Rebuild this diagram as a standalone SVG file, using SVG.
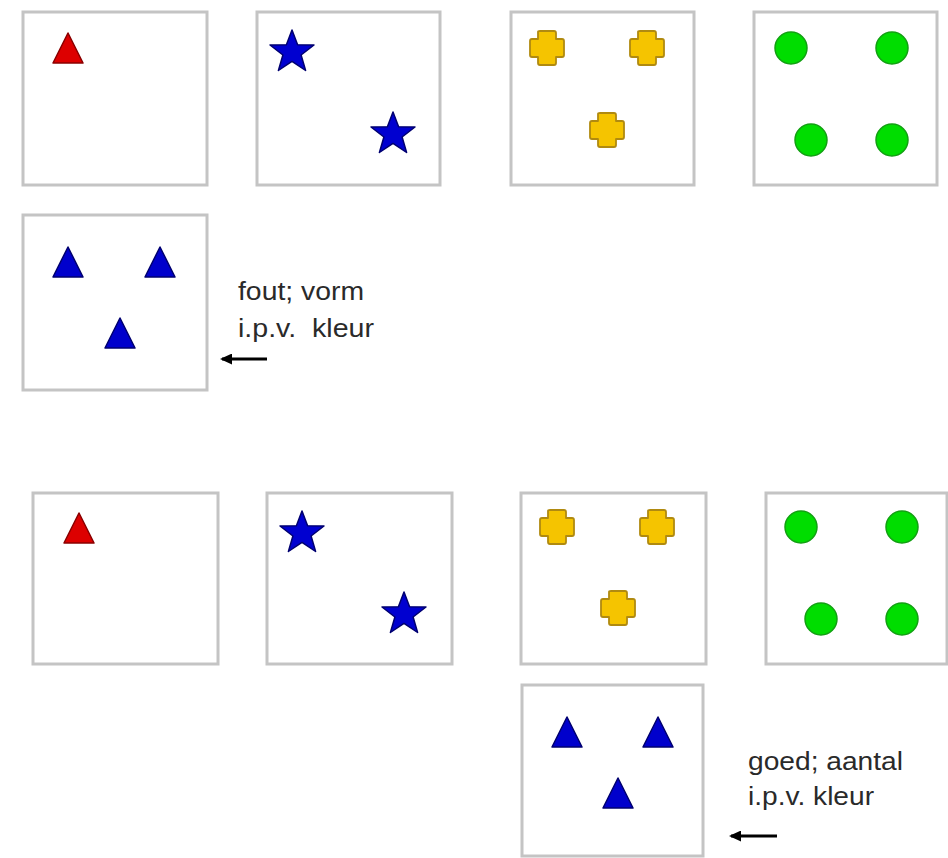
<svg xmlns="http://www.w3.org/2000/svg" xmlns:xlink="http://www.w3.org/1999/xlink" width="948" height="858" viewBox="0 0 948 858">
<style>
.box{fill:#fff;stroke:#c4c4c4;stroke-width:3}
.tr{fill:#dd0000;stroke:#8a0000;stroke-width:1.5;stroke-linejoin:round}
.tb{fill:#0000cc;stroke:#000070;stroke-width:1.5;stroke-linejoin:round}
.st{fill:#0000d0;stroke:#000070;stroke-width:1.5;stroke-linejoin:round}
.cr{fill:#f5c400;stroke:#b08a10;stroke-width:1.8;stroke-linejoin:round}
.gc{fill:#00dd00;stroke:#12a012;stroke-width:1.5}
.lbl{font-family:"Liberation Sans",Arial,sans-serif;font-size:26px;fill:#2a2a2a}
.arr{stroke:#000;stroke-width:3;fill:none}
</style>
<defs>
<path id="star" d="M0,-22 L5.6,-7.2 L22,-7 L9.1,3 L13.6,18.5 L0,9.4 L-13.6,18.5 L-9.1,3 L-22,-7 L-5.6,-7.2 Z"/>
<path id="cross" d="M-9,-16 Q-9,-17 -7,-17 H7 Q9,-17 9,-15 V-9 H15 Q17,-9 17,-7 V7 Q17,9 15,9 H9 V15 Q9,17 7,17 H-7 Q-9,17 -9,15 V9 H-15 Q-17,9 -17,7 V-7 Q-17,-9 -15,-9 H-9 Z"/>
<path id="tri" d="M0,-15 L15,15 L-15,15 Z"/>
<marker id="ah" markerWidth="12" markerHeight="11" refX="10" refY="5.5" orient="auto" markerUnits="userSpaceOnUse">
<path d="M0,0 L12,5.5 L0,11 Z" fill="#000"/>
</marker>
</defs>

<g id="top-1">
<rect class="box" x="23" y="12" width="184" height="173"/>
<use xlink:href="#tri" class="tr" x="68" y="48"/>
</g>
<g id="top-2">
<rect class="box" x="257" y="12" width="183" height="173"/>
<use xlink:href="#star" class="st" x="292" y="52"/>
<use xlink:href="#star" class="st" x="393" y="134"/>
</g>
<g id="top-3">
<rect class="box" x="511" y="12" width="183" height="173"/>
<use xlink:href="#cross" class="cr" x="547" y="48"/>
<use xlink:href="#cross" class="cr" x="647" y="48"/>
<use xlink:href="#cross" class="cr" x="607" y="130"/>
</g>
<g id="top-4">
<rect class="box" x="754" y="12" width="183" height="173"/>
<circle class="gc" cx="791" cy="48" r="16"/>
<circle class="gc" cx="892" cy="48" r="16"/>
<circle class="gc" cx="811" cy="140" r="16"/>
<circle class="gc" cx="892" cy="140" r="16"/>
</g>
<g id="top-answer">
<rect class="box" x="23" y="215" width="184" height="175"/>
<use xlink:href="#tri" class="tb" x="68" y="262"/>
<use xlink:href="#tri" class="tb" x="160" y="262"/>
<use xlink:href="#tri" class="tb" x="120" y="333"/>
</g>
<g id="label-fout">
<text class="lbl" x="238" y="300" textLength="126" lengthAdjust="spacingAndGlyphs">fout; vorm</text>
<text class="lbl" x="238" y="337" textLength="136" lengthAdjust="spacingAndGlyphs" xml:space="preserve">i.p.v.  kleur</text>
</g>

<g id="bottom-1">
<rect class="box" x="33" y="493" width="185" height="171"/>
<use xlink:href="#tri" class="tr" x="79" y="528"/>
</g>
<g id="bottom-2">
<rect class="box" x="267" y="493" width="185" height="171"/>
<use xlink:href="#star" class="st" x="302" y="533"/>
<use xlink:href="#star" class="st" x="404" y="614"/>
</g>
<g id="bottom-3">
<rect class="box" x="521" y="493" width="185" height="171"/>
<use xlink:href="#cross" class="cr" x="557" y="527"/>
<use xlink:href="#cross" class="cr" x="657" y="527"/>
<use xlink:href="#cross" class="cr" x="618" y="608"/>
</g>
<g id="bottom-4">
<rect class="box" x="766" y="493" width="181" height="171"/>
<circle class="gc" cx="801" cy="527" r="16"/>
<circle class="gc" cx="902" cy="527" r="16"/>
<circle class="gc" cx="821" cy="619" r="16"/>
<circle class="gc" cx="902" cy="619" r="16"/>
</g>
<g id="bottom-answer">
<rect class="box" x="522" y="685" width="181" height="171"/>
<use xlink:href="#tri" class="tb" x="567" y="732"/>
<use xlink:href="#tri" class="tb" x="658" y="732"/>
<use xlink:href="#tri" class="tb" x="618" y="793"/>
</g>
<g id="label-goed">
<text class="lbl" x="748" y="770" textLength="155" lengthAdjust="spacingAndGlyphs">goed; aantal</text>
<text class="lbl" x="748" y="805" textLength="126" lengthAdjust="spacingAndGlyphs">i.p.v. kleur</text>
</g>

<g id="connectors">
<line class="arr" x1="267" y1="359" x2="222" y2="359" marker-end="url(#ah)"/>
<line class="arr" x1="777" y1="836" x2="731" y2="836" marker-end="url(#ah)"/>
</g>
</svg>
